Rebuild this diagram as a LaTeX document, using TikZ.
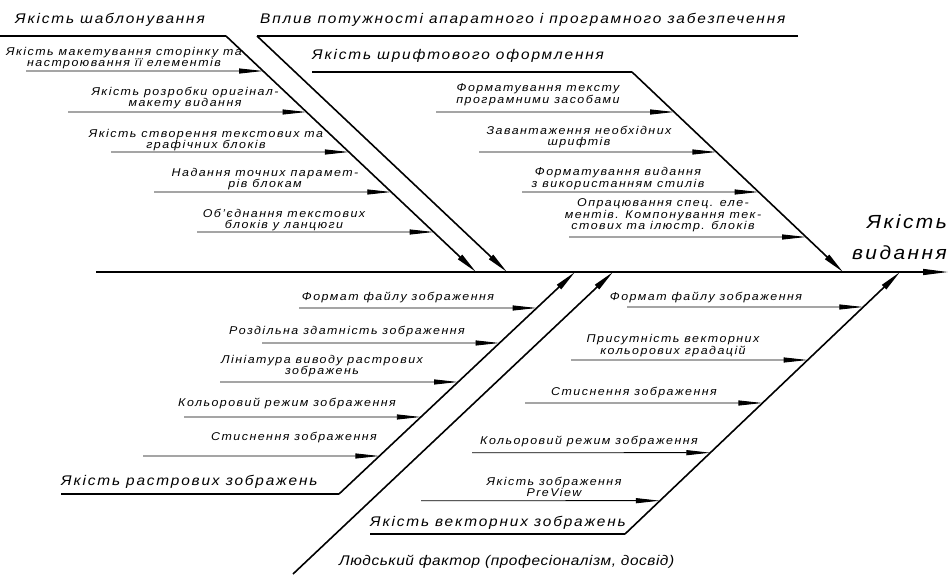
\documentclass[tikz,border=0pt]{standalone}
\usepackage{fontspec}
\usetikzlibrary{arrows.meta}
\newfontfamily\gost{Liberation Sans}[FakeStretch=1.1,LetterSpace=13]
\tikzset{
  lbl/.style={font=\gost\itshape\fontsize{11.3}{10.5}\selectfont, align=center, inner sep=0pt},
  biglbl/.style={font=\gost\itshape\fontsize{14}{14}\selectfont, anchor=west, inner sep=0pt},
  subarrow/.style={line width=0.9pt, -{Triangle[length=24pt,width=5pt]}},
  bone/.style={line width=1.6pt, -{Triangle[length=22pt,width=6pt]}},
  shelf/.style={line width=2.6pt},
  spine/.style={line width=1.2pt, -{Triangle[length=25pt,width=6pt]}},
}
\newcommand\fishtwig[5]{%
  \coordinate (#1s) at (#2,#3);
  \coordinate (#1t) at (intersection cs: first line={(#4)--(#5)}, second line={(#2,#3)--(1000,#3)});
  \draw[subarrow] (#1s) -- (#1t);
}
\begin{document}
\begin{tikzpicture}[x=1pt,y=-1pt]
\useasboundingbox (0,0) rectangle (948,574);
% spine
\coordinate (S0) at (96,272);
\coordinate (S1) at (948,272);
\draw[spine] (S0) -- (S1);
\node[font=\gost\itshape\fontsize{19}{31}\selectfont, align=right, anchor=east, inner sep=0pt] (res) at (947,237) {Якість\\видання};

% branch A
\coordinate (A0) at (0,36);
\coordinate (A1) at (226,36);
\coordinate (A2) at (476,272);
\draw[shelf] (A0) -- (A1);
\draw[bone] (A1) -- (A2);
\node[biglbl] (LA) at (15,20) {Якість шаблонування};
\fishtwig{a1}{26}{71}{A1}{A2}
\fishtwig{a2}{68}{112}{A1}{A2}
\fishtwig{a3}{111}{152}{A1}{A2}
\fishtwig{a4}{154}{192}{A1}{A2}
\fishtwig{a5}{197}{232}{A1}{A2}
\node[lbl] (ta1) at (124,58) {Якість макетування сторінку та\\настроювання її елементів};
\node[lbl] (ta2) at (185,98) {Якість розробки оригінал-\\макету видання};
\node[lbl] (ta3) at (206,140) {Якість створення текстових та\\графічних блоків};
\node[lbl] (ta4) at (265,179) {Надання точних парамет-\\рів блокам};
\node[lbl] (ta5) at (284,220) {Об’єднання текстових\\блоків у ланцюги};

% branch B
\coordinate (B0) at (798,36);
\coordinate (B1) at (257,36);
\coordinate (B2) at (507,272);
\draw[shelf] (B0) -- (B1);
\draw[bone] (B1) -- (B2);
\node[biglbl] (LB) at (260,20) {Вплив потужності апаратного і програмного забезпечення};

% branch C
\coordinate (C0) at (312,72);
\coordinate (C1) at (632,72);
\coordinate (C2) at (843,272);
\draw[shelf] (C0) -- (C1);
\draw[bone] (C1) -- (C2);
\node[biglbl] (LC) at (312,56) {Якість шрифтового оформлення};
\fishtwig{c1}{436}{112}{C1}{C2}
\fishtwig{c2}{479}{152}{C1}{C2}
\fishtwig{c3}{522}{192}{C1}{C2}
\fishtwig{c4}{569}{237}{C1}{C2}
\node[lbl] (tc1) at (538,95) {Форматування тексту\\програмними засобами};
\node[lbl] (tc2) at (579,137) {Завантаження необхідних\\шрифтів};
\node[lbl] (tc3) at (618,178.5) {Форматування видання\\з використанням стилів};
\node[lbl] (tc4) at (663,215.5) {Опрацювання спец. еле-\\ментів. Компонування тек-\\стових та ілюстр. блоків};

% branch R (raster)
\coordinate (R0) at (61,494);
\coordinate (R1) at (339,494);
\coordinate (R2) at (575,272);
\draw[shelf] (R0) -- (R1);
\draw[bone] (R1) -- (R2);
\node[biglbl] (LR) at (61,482) {Якість растрових зображень};
\fishtwig{r1}{299}{308}{R1}{R2}
\fishtwig{r2}{262}{343}{R1}{R2}
\fishtwig{r3}{220}{382}{R1}{R2}
\fishtwig{r4}{184}{417}{R1}{R2}
\fishtwig{r5}{143}{456}{R1}{R2}
\node[lbl] (tr1) at (398,297) {Формат файлу зображення};
\node[lbl] (tr2) at (347,332) {Роздільна здатність зображення};
\node[lbl] (tr3) at (322,366) {Лініатура виводу растрових\\зображень};
\node[lbl] (tr4) at (287,403) {Кольоровий режим зображення};
\node[lbl] (tr5) at (294,438) {Стиснення зображення};

% branch H (human factor)
\coordinate (H1) at (293,574);
\coordinate (H2) at (613,272);
\draw[bone] (H1) -- (H2);
\node[biglbl] (LH) at (339,562) {\addfontfeatures{LetterSpace=4}Людський фактор (професіоналізм, досвід)};

% branch V (vector)
\coordinate (V0) at (370,534);
\coordinate (V1) at (625,534);
\coordinate (V2) at (900,272);
\draw[shelf] (V0) -- (V1);
\draw[bone] (V1) -- (V2);
\node[biglbl] (LV) at (370,523) {Якість векторних зображень};
\fishtwig{v1}{627}{307}{V1}{V2}
\fishtwig{v2}{571}{360}{V1}{V2}
\fishtwig{v3}{525}{403}{V1}{V2}
\fishtwig{v4}{472}{452.7}{V1}{V2}
\fishtwig{v5}{421}{500.7}{V1}{V2}
\node[lbl] (tv1) at (706,297) {Формат файлу зображення};
\node[lbl] (tv2) at (673,345.5) {Присутність векторних\\кольорових градацій};
\node[lbl] (tv3) at (634,393) {Стиснення зображення};
\node[lbl] (tv4) at (589,441) {Кольоровий режим зображення};
\node[lbl] (tv5) at (554,487) {Якість зображення\\PreView};
\end{tikzpicture}
\end{document}
